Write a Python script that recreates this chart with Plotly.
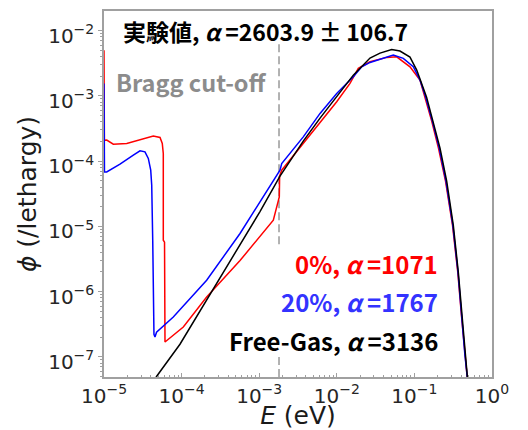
import numpy as np
import plotly.graph_objects as go

# ---- data (stored as log10 values) ----
red_log10_E = [-5.0, -4.995, -4.965, -4.880, -4.707, -4.536, -4.365, -4.278, -4.249, -4.236, -4.236,
               -4.220, -4.214, -3.978, -3.677, -3.247, -2.818, -2.741, -2.737, -2.710, -2.432, -2.216,
               -2.001, -1.830, -1.723, -1.572, -1.357, -1.228, -1.143, -1.057, -0.928, -0.863, -0.777,
               -0.690, -0.599, -0.509, -0.441, -0.394, -0.351, -0.318]
red_log10_phi = [-2.30, -3.68, -3.679, -3.741, -3.730, -3.679, -3.618, -3.638, -3.730, -3.883, -5.213,
                 -5.244, -6.773, -6.543, -6.083, -5.525, -4.906, -4.549, -4.232, -4.140, -3.730, -3.399,
                 -3.092, -2.810, -2.580, -2.479, -2.411, -2.402, -2.479, -2.555, -2.759, -3.020, -3.388,
                 -3.802, -4.308, -4.983, -5.704, -6.364, -6.977, -7.330]

blue_log10_E = [-5.0, -4.994, -4.965, -4.794, -4.622, -4.536, -4.472, -4.429, -4.398, -4.385, -4.372,
                -4.365, -4.356, -4.343, -4.323, -4.107, -3.677, -3.247, -2.732, -2.710, -2.432, -2.216,
                -2.001, -1.787, -1.679, -1.572, -1.401, -1.272, -1.143, -1.014, -0.928, -0.855, -0.769,
                -0.680, -0.593, -0.505, -0.438, -0.393, -0.349, -0.317]
blue_log10_phi = [-2.810, -4.166, -4.166, -4.048, -3.910, -3.844, -3.859, -3.960, -4.140, -4.370, -5.213,
                  -6.594, -6.655, -6.696, -6.624, -6.390, -5.827, -5.110, -4.140, -4.037, -3.629, -3.270,
                  -2.963, -2.709, -2.555, -2.488, -2.426, -2.376, -2.426, -2.555, -2.759, -3.020, -3.388,
                  -3.802, -4.308, -4.983, -5.704, -6.364, -6.977, -7.330]

black_log10_E = [-4.36, -4.321, -4.021, -3.505, -2.990, -2.732, -2.432, -2.216, -2.001, -1.787, -1.572,
                 -1.443, -1.293, -1.186, -1.057, -0.970, -0.843, -0.757, -0.670, -0.584, -0.499, -0.434,
                 -0.390, -0.348, -0.316]
black_log10_phi = [-7.38, -7.299, -6.808, -5.791, -4.775, -4.230, -3.695, -3.342, -3.020, -2.683, -2.422,
                   -2.345, -2.291, -2.314, -2.406, -2.606, -3.020, -3.388, -3.802, -4.308, -4.983, -5.704,
                   -6.364, -6.977, -7.330]

BRAGG_E = 1.8e-3  # eV

x_tick_exp = [-5, -4, -3, -2, -1, 0]
y_tick_exp = [-7, -6, -5, -4, -3, -2]

label_exp = "実験値, <i>α</i> =2603.9\u2009±\u2009106.7"
label_bragg = "Bragg cut-off"
legend_labels = ["0%, <i>α</i> =1071", "20%, <i>α</i> =1767", "Free-Gas, <i>α</i> =3136"]
legend_colors = ["#ff0000", "#3333ff", "#000000"]

# ---- figure ----
fig = go.Figure()

# Bragg cut-off dashed line (split where the text boxes sit in the reference)
dash_line = dict(color="#999999", width=1.5, dash="8px,4px")
for y0, y1 in [(0.363, 0.9125), (0.0, 0.062)]:
    fig.add_shape(type="line", xref="x", yref="paper", x0=BRAGG_E, x1=BRAGG_E, y0=y0, y1=y1,
                  line=dash_line, layer="below")

for lx, ly, col in [(red_log10_E, red_log10_phi, "#ff0000"),
                    (blue_log10_E, blue_log10_phi, "#0000ff"),
                    (black_log10_E, black_log10_phi, "#000000")]:
    fig.add_trace(go.Scatter(x=10 ** np.array(lx), y=10 ** np.array(ly), mode="lines",
                             line=dict(color=col, width=1.5), showlegend=False,
                             hoverinfo="skip"))


def sup_label(e):
    return "10<sup>" + str(e).replace("-", "\u2212") + "</sup>"


def minor_vals(lo, hi):
    return [m * 10.0 ** k for k in range(lo, hi) for m in range(2, 10)]


tickfont = dict(family="DejaVu Sans", size=20, color="#262626")
axis_common = dict(type="log", showline=True, linecolor="#a0a0a0", linewidth=1.5, mirror=True,
                   showgrid=False, zeroline=False, ticklen=4, tickwidth=1,
                   tickcolor="#a0a0a0", tickfont=tickfont, automargin=False)

fig.update_xaxes(**axis_common, range=[-5, 0], ticks="inside",
                 tickmode="array", tickvals=[10.0 ** e for e in x_tick_exp],
                 ticktext=[sup_label(e) for e in x_tick_exp],
                 minor=dict(tickmode="array", tickvals=minor_vals(-5, 0), ticks="inside",
                            ticklen=2, tickcolor="#a0a0a0", showgrid=False),
                 title=dict(text="<i>E</i> (eV)", font=dict(family="DejaVu Sans", size=25, color="#1a1a1a"),
                            standoff=4))
fig.update_yaxes(**axis_common, range=[-7.31, -1.70], ticks="outside", ticklabelshift=5,
                 tickmode="array", tickvals=[10.0 ** e for e in y_tick_exp],
                 ticktext=[sup_label(e) for e in y_tick_exp],
                 minor=dict(tickmode="array", tickvals=minor_vals(-8, -1), ticks="outside",
                            ticklen=2, tickcolor="#a0a0a0", showgrid=False),
                 title=dict(text="<i>ϕ</i> (/lethargy)", font=dict(family="DejaVu Sans", size=25, color="#1a1a1a"),
                            standoff=4))

cjk = "Noto Sans CJK JP"
fig.add_annotation(text="<b>" + label_exp + "</b>", xref="paper", yref="paper", x=0.044, y=0.945,
                   xanchor="left", yanchor="middle", showarrow=False,
                   font=dict(family=cjk, size=23, color="#000000"))
fig.add_annotation(text="<b>" + label_bragg + "</b>", xref="paper", yref="paper", x=0.026, y=0.806,
                   xanchor="left", yanchor="middle", showarrow=False,
                   font=dict(family=cjk, size=23.5, color="#8c8c8c"))
for lab, col, yy in zip(legend_labels, legend_colors, [0.310, 0.205, 0.100]):
    fig.add_annotation(text="<b>" + lab + "</b>", xref="paper", yref="paper", x=0.866, y=yy,
                       xanchor="right", yanchor="middle", showarrow=False, align="right",
                       font=dict(family=cjk, size=24, color=col))

fig.update_layout(width=528, height=430, margin=dict(l=104, r=36, t=11, b=53),
                  paper_bgcolor="white", plot_bgcolor="white")

fig.write_html("out.html", config={"displayModeBar": False},
               post_script="document.body.style.margin='0';")
